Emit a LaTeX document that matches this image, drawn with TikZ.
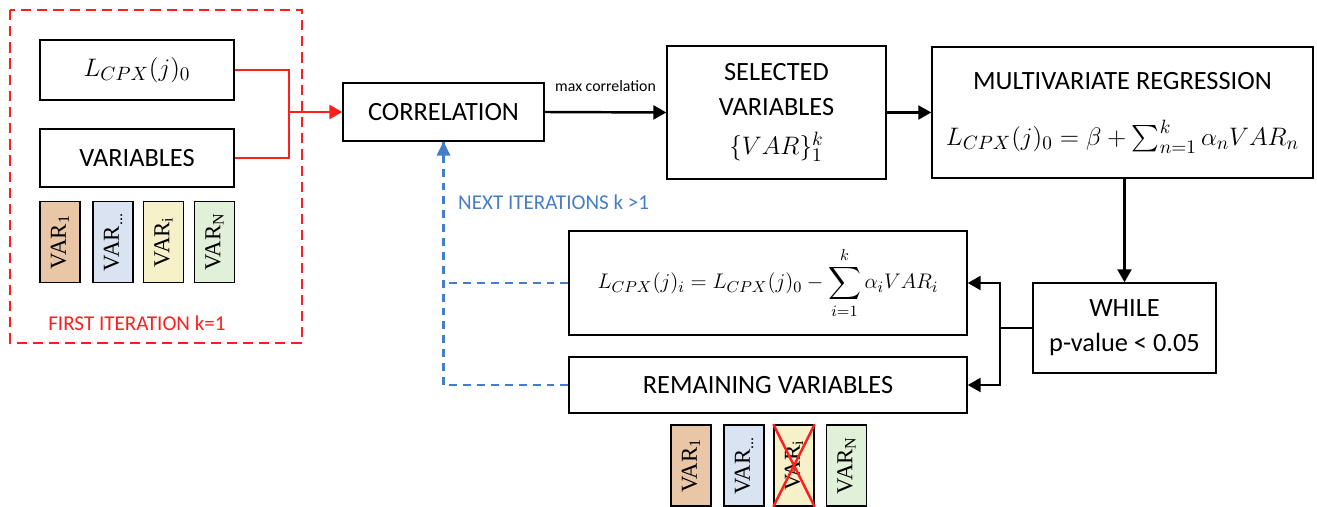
\documentclass[tikz,border=0pt]{standalone}
\definecolor{iterred}{RGB}{255, 30, 30}
\definecolor{iterblue}{RGB}{70, 125, 200}
\definecolor{varorange}{RGB}{233, 198, 166}
\definecolor{varblue}{RGB}{218, 227, 241}
\definecolor{varyellow}{RGB}{246, 241, 201}
\definecolor{vargreen}{RGB}{225, 240, 217}
\usepackage[no-math]{fontspec}
\setmainfont{Carlito}
\newfontfamily\varfont{Liberation Serif}
\usepackage{tikz}
\usetikzlibrary{arrows.meta, positioning, calc}
\usepackage{amsmath, amssymb}

\tikzset{
  box/.style={draw, line width=0.8pt, align=center, inner sep=2pt,
    font=\fontsize{15}{20}\selectfont},
  varbox/.style={draw, line width=0.8pt, rotate=90, minimum width=1.62cm,
    minimum height=0.8cm, inner sep=1pt, font=\varfont\fontsize{13}{14}\selectfont},
  flow/.style={line width=1.4pt, -{Triangle[length=0.26cm, width=0.28cm]}},
  redline/.style={line width=1.6pt, iterred},
  blueline/.style={line width=1.5pt, iterblue, dash pattern=on 4.5pt off 3.4pt}
}

\begin{document}
\begin{tikzpicture}
  \useasboundingbox (0,0) rectangle (26.34,-10.14);

  % first iteration
  \draw[iterred, line width=1.6pt, dash pattern=on 5.8pt off 3.4pt]
    (0.2,-0.2) rectangle (6.04,-6.86);
  \node[box, minimum width=3.88cm, minimum height=1.2cm] (lzero) at (2.74,-1.4)
    {$L_{CPX}(j)_0$};
  \node[box, minimum width=3.88cm, minimum height=1.16cm] (vars) at (2.74,-3.16)
    {VARIABLES};
  \foreach \x/\sub/\col/\nm in {1.2/1/varorange/a, 2.26/{...}/varblue/b,
                               3.27/i/varyellow/c, 4.29/N/vargreen/d} {
    \node[varbox, fill=\col] (vtop\nm) at (\x,-4.84) {VAR\textsubscript{\sub}};
  }
  \node[iterred, font=\fontsize{12}{14}\selectfont] (firstlbl) at (2.74,-6.46)
    {FIRST ITERATION k=1};

  % main chain
  \node[box, minimum width=4.02cm, minimum height=1.16cm] (corr) at (8.87,-2.24)
    {CORRELATION};
  \node[box, minimum width=4.38cm, minimum height=2.66cm] (sel) at (15.53,-2.25)
    {SELECTED\\VARIABLES\\[2pt]$\{VAR\}_1^k$};
  \node[box, minimum width=7.62cm, minimum height=2.62cm] (mult) at (22.45,-2.25)
    {MULTIVARIATE REGRESSION\\[0.42cm]$L_{CPX}(j)_0=\beta+\sum_{n=1}^{k}\alpha_n VAR_n$};
  \node[box, minimum width=3.66cm, minimum height=1.8cm] (while) at (22.49,-6.56)
    {WHILE\\p-value < 0.05};
  \node[box, minimum width=7.96cm, minimum height=2.08cm, font=\fontsize{13}{16}\selectfont]
    (form) at (15.36,-5.66)
    {$\displaystyle L_{CPX}(j)_i=L_{CPX}(j)_0-\sum_{i=1}^{k}\alpha_i VAR_i$};
  \node[box, minimum width=7.96cm, minimum height=1.12cm] (rem) at (15.36,-7.7)
    {REMAINING VARIABLES};
  \foreach \x/\sub/\col/\nm in {13.82/1/varorange/a, 14.88/{...}/varblue/b,
                               15.88/i/varyellow/c, 16.93/N/vargreen/d} {
    \node[varbox, fill=\col] (vbot\nm) at (\x,-9.31) {VAR\textsubscript{\sub}};
  }
  \draw[iterred, line width=1.4pt] (vbotc.north west) -- (vbotc.south east)
    (vbotc.north east) -- (vbotc.south west);

  % connectors
  \coordinate (rj) at (5.78,-2.24);
  \draw[redline] (lzero.east) -| (rj) |- (vars.east);
  \draw[redline, -{Triangle[length=0.26cm, width=0.28cm]}] (rj) -- (corr.west);
  \draw[flow] (corr.east) -- node[above=0.28cm, font=\fontsize{9}{11}\selectfont]
    {max correlation} (sel.west);
  \draw[flow] (sel.east) -- (mult.west);
  \draw[flow] (while.north |- mult.south) -- (while.north);
  \coordinate (bj) at (20.0,-6.56);
  \draw[line width=1.4pt] (while.west) -- (bj);
  \draw[flow] (bj) |- (form.east);
  \draw[flow] (bj) |- (rem.east);

  % feedback
  \coordinate (bl) at (corr.south |- rem.west);
  \draw[blueline] (form.west) -- (form.west -| corr.south);
  \draw[blueline] (rem.west) -- (bl) -- (corr.south);
  \fill[iterblue] (corr.south) -- ++(-0.14,-0.28) -- ++(0.28,0) -- cycle;
  \node[anchor=west, iterblue, font=\fontsize{12}{14}\selectfont] (nextlbl)
    at (9.04,-4.04) {NEXT ITERATIONS k >1};
\end{tikzpicture}
\end{document}
